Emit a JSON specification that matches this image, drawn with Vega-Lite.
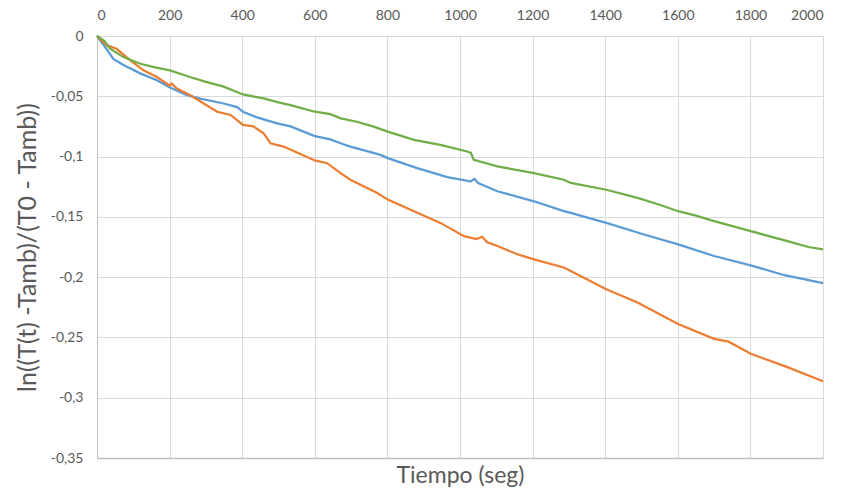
{
  "$schema": "https://vega.github.io/schema/vega-lite/v6.json",
  "width": 726,
  "height": 422,
  "autosize": "none",
  "padding": {"left": 97, "top": 36, "right": 19, "bottom": 36},
  "background": "white",
  "config": {
    "font": "Lato",
    "view": {"stroke": null}
  },
  "data": {
    "values": [
      {"s": "Serie1", "t": 0, "v": 0},
      {"s": "Serie1", "t": 22, "v": -0.009},
      {"s": "Serie1", "t": 45, "v": -0.019},
      {"s": "Serie1", "t": 73, "v": -0.024},
      {"s": "Serie1", "t": 119, "v": -0.031},
      {"s": "Serie1", "t": 165, "v": -0.0367},
      {"s": "Serie1", "t": 201, "v": -0.0428},
      {"s": "Serie1", "t": 248, "v": -0.049},
      {"s": "Serie1", "t": 284, "v": -0.052},
      {"s": "Serie1", "t": 349, "v": -0.056},
      {"s": "Serie1", "t": 386, "v": -0.059},
      {"s": "Serie1", "t": 402, "v": -0.0628},
      {"s": "Serie1", "t": 441, "v": -0.0675},
      {"s": "Serie1", "t": 496, "v": -0.0725},
      {"s": "Serie1", "t": 533, "v": -0.075},
      {"s": "Serie1", "t": 600, "v": -0.083},
      {"s": "Serie1", "t": 643, "v": -0.0857},
      {"s": "Serie1", "t": 671, "v": -0.089},
      {"s": "Serie1", "t": 698, "v": -0.0917},
      {"s": "Serie1", "t": 781, "v": -0.0986},
      {"s": "Serie1", "t": 801, "v": -0.1013},
      {"s": "Serie1", "t": 882, "v": -0.1096},
      {"s": "Serie1", "t": 965, "v": -0.117},
      {"s": "Serie1", "t": 1029, "v": -0.1206},
      {"s": "Serie1", "t": 1040, "v": -0.1186},
      {"s": "Serie1", "t": 1050, "v": -0.122},
      {"s": "Serie1", "t": 1103, "v": -0.1288},
      {"s": "Serie1", "t": 1204, "v": -0.1371},
      {"s": "Serie1", "t": 1286, "v": -0.1453},
      {"s": "Serie1", "t": 1305, "v": -0.1467},
      {"s": "Serie1", "t": 1403, "v": -0.155},
      {"s": "Serie1", "t": 1507, "v": -0.1646},
      {"s": "Serie1", "t": 1601, "v": -0.1728},
      {"s": "Serie1", "t": 1700, "v": -0.1825},
      {"s": "Serie1", "t": 1801, "v": -0.1902},
      {"s": "Serie1", "t": 1894, "v": -0.1984},
      {"s": "Serie1", "t": 2000, "v": -0.205},
      {"s": "Serie2", "t": 0, "v": 0},
      {"s": "Serie2", "t": 27, "v": -0.0078},
      {"s": "Serie2", "t": 54, "v": -0.0106},
      {"s": "Serie2", "t": 91, "v": -0.02},
      {"s": "Serie2", "t": 128, "v": -0.0285},
      {"s": "Serie2", "t": 165, "v": -0.034},
      {"s": "Serie2", "t": 200, "v": -0.041},
      {"s": "Serie2", "t": 206, "v": -0.0395},
      {"s": "Serie2", "t": 220, "v": -0.0436},
      {"s": "Serie2", "t": 256, "v": -0.049},
      {"s": "Serie2", "t": 294, "v": -0.056},
      {"s": "Serie2", "t": 331, "v": -0.0628},
      {"s": "Serie2", "t": 368, "v": -0.0655},
      {"s": "Serie2", "t": 402, "v": -0.0738},
      {"s": "Serie2", "t": 431, "v": -0.075},
      {"s": "Serie2", "t": 459, "v": -0.0807},
      {"s": "Serie2", "t": 478, "v": -0.089},
      {"s": "Serie2", "t": 514, "v": -0.0917},
      {"s": "Serie2", "t": 551, "v": -0.0967},
      {"s": "Serie2", "t": 600, "v": -0.1032},
      {"s": "Serie2", "t": 634, "v": -0.1055},
      {"s": "Serie2", "t": 671, "v": -0.1137},
      {"s": "Serie2", "t": 698, "v": -0.1192},
      {"s": "Serie2", "t": 772, "v": -0.1302},
      {"s": "Serie2", "t": 801, "v": -0.1357},
      {"s": "Serie2", "t": 873, "v": -0.1453},
      {"s": "Serie2", "t": 946, "v": -0.155},
      {"s": "Serie2", "t": 1011, "v": -0.166},
      {"s": "Serie2", "t": 1045, "v": -0.1685},
      {"s": "Serie2", "t": 1061, "v": -0.1665},
      {"s": "Serie2", "t": 1075, "v": -0.171},
      {"s": "Serie2", "t": 1103, "v": -0.1742},
      {"s": "Serie2", "t": 1158, "v": -0.181},
      {"s": "Serie2", "t": 1204, "v": -0.1852},
      {"s": "Serie2", "t": 1286, "v": -0.192},
      {"s": "Serie2", "t": 1305, "v": -0.1949},
      {"s": "Serie2", "t": 1403, "v": -0.21},
      {"s": "Serie2", "t": 1489, "v": -0.221},
      {"s": "Serie2", "t": 1601, "v": -0.2388},
      {"s": "Serie2", "t": 1700, "v": -0.2512},
      {"s": "Serie2", "t": 1740, "v": -0.2535},
      {"s": "Serie2", "t": 1801, "v": -0.2636},
      {"s": "Serie2", "t": 1902, "v": -0.2746},
      {"s": "Serie2", "t": 2000, "v": -0.2864},
      {"s": "Serie3", "t": 0, "v": 0},
      {"s": "Serie3", "t": 20, "v": -0.004},
      {"s": "Serie3", "t": 36, "v": -0.0106},
      {"s": "Serie3", "t": 73, "v": -0.0175},
      {"s": "Serie3", "t": 119, "v": -0.023},
      {"s": "Serie3", "t": 160, "v": -0.026},
      {"s": "Serie3", "t": 201, "v": -0.0285},
      {"s": "Serie3", "t": 256, "v": -0.034},
      {"s": "Serie3", "t": 300, "v": -0.038},
      {"s": "Serie3", "t": 349, "v": -0.042},
      {"s": "Serie3", "t": 402, "v": -0.0485},
      {"s": "Serie3", "t": 459, "v": -0.0518},
      {"s": "Serie3", "t": 500, "v": -0.055},
      {"s": "Serie3", "t": 533, "v": -0.0573},
      {"s": "Serie3", "t": 600, "v": -0.0628},
      {"s": "Serie3", "t": 643, "v": -0.0648},
      {"s": "Serie3", "t": 671, "v": -0.0683},
      {"s": "Serie3", "t": 716, "v": -0.0711},
      {"s": "Serie3", "t": 760, "v": -0.075},
      {"s": "Serie3", "t": 801, "v": -0.0793},
      {"s": "Serie3", "t": 873, "v": -0.0862},
      {"s": "Serie3", "t": 946, "v": -0.0903},
      {"s": "Serie3", "t": 1020, "v": -0.0958},
      {"s": "Serie3", "t": 1030, "v": -0.097},
      {"s": "Serie3", "t": 1038, "v": -0.1027},
      {"s": "Serie3", "t": 1103, "v": -0.1082},
      {"s": "Serie3", "t": 1204, "v": -0.1137},
      {"s": "Serie3", "t": 1286, "v": -0.1192},
      {"s": "Serie3", "t": 1305, "v": -0.1219},
      {"s": "Serie3", "t": 1403, "v": -0.1275},
      {"s": "Serie3", "t": 1489, "v": -0.1343},
      {"s": "Serie3", "t": 1550, "v": -0.14},
      {"s": "Serie3", "t": 1601, "v": -0.1453},
      {"s": "Serie3", "t": 1650, "v": -0.149},
      {"s": "Serie3", "t": 1700, "v": -0.1536},
      {"s": "Serie3", "t": 1801, "v": -0.1619},
      {"s": "Serie3", "t": 1902, "v": -0.1701},
      {"s": "Serie3", "t": 1960, "v": -0.175},
      {"s": "Serie3", "t": 2000, "v": -0.177}
    ]
  },
  "resolve": {"axis": {"x": "independent"}},
  "layer": [
    {
      "mark": {"type": "rule", "opacity": 0},
      "encoding": {
        "x": {
          "field": "t", "type": "quantitative",
          "scale": {"domain": [0, 2000], "nice": false},
          "axis": {
            "orient": "bottom", "title": "Tiempo (seg)", "labels": false, "ticks": false, "grid": false,
            "domainColor": "#bfbfbf", "domainWidth": 1.5,
            "titleFont": "Lato", "titleFontSize": 23, "titleFontWeight": "normal", "titleColor": "#595959", "titlePadding": 6
          }
        }
      }
    },
    {
      "mark": {"type": "line", "strokeWidth": 2.25, "interpolate": "linear"},
      "encoding": {
        "x": {
          "field": "t", "type": "quantitative",
          "scale": {"domain": [0, 2000], "nice": false},
          "axis": {
            "orient": "top", "title": null, "values": [0,200,400,600,800,1000,1200,1400,1600,1800,2000],
            "format": "d", "ticks": false, "labelPadding": 14, "labelFontSize": 14, "labelColor": "#595959",
            "grid": true, "gridColor": "#d9d9d9", "gridWidth": 1, "domainColor": "#d9d9d9", "labelFont": "Lato"
          }
        },
        "y": {
          "field": "v", "type": "quantitative",
          "scale": {"domain": [-0.35, 0], "nice": false},
          "axis": {
            "title": "ln((T(t) -Tamb)/(T0 - Tamb))",
            "values": [0, -0.05, -0.1, -0.15, -0.2, -0.25, -0.3, -0.35],
            "labelExpr": "(datum.value < 0 ? '-' : '') + replace(format(abs(datum.value), '~g'), '.', ',')",
            "ticks": false, "labelPadding": 14, "labelFontSize": 14, "labelColor": "#595959", "labelFont": "Lato",
            "grid": true, "gridColor": "#d9d9d9", "gridWidth": 1, "domainColor": "#bfbfbf", "domainWidth": 1,
            "titleFont": "Lato", "titleFontSize": 25, "titleFontWeight": "normal", "titleColor": "#595959", "titlePadding": 10
          }
        },
        "color": {
          "field": "s", "type": "nominal", "legend": null,
          "scale": {"domain": ["Serie1", "Serie2", "Serie3"], "range": ["#5b9bd5", "#ed7d31", "#70ad47"]}
        }
      }
    }
  ]
}
